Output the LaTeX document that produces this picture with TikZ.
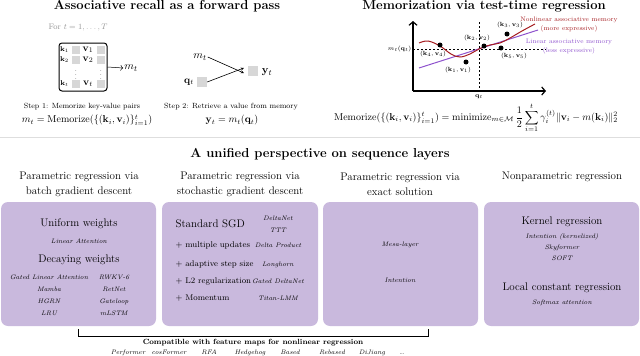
\documentclass[tikz,border=0pt]{standalone}
\usepackage{amsmath,amssymb}
\usetikzlibrary{arrows.meta}
\definecolor{boxpurple}{RGB}{201,185,221}
\definecolor{memred}{RGB}{165,28,32}
\definecolor{mempurple}{RGB}{142,82,205}
\definecolor{sepgray}{RGB}{222,222,222}
\definecolor{cellgray}{RGB}{215,215,215}
\definecolor{forgray}{RGB}{150,150,150}
\begin{document}
\begin{tikzpicture}[x=1pt,y=-1pt,
  bigtitle/.style={font=\fontsize{13}{15}\selectfont\bfseries},
  header/.style={font=\fontsize{11}{15.5}\selectfont, align=center},
  cat/.style={font=\fontsize{11}{13}\selectfont},
  model/.style={font=\fontsize{6.5}{8}\selectfont\itshape, inner sep=0.5pt, text height=1.7ex, text depth=0.45ex},
  sgd/.style={font=\fontsize{8.3}{10}\selectfont, anchor=west},
  panel/.style={fill=boxpurple, rounded corners=7pt, draw=none},
  cell/.style={fill=cellgray, minimum size=8pt, inner sep=0pt},
  steptext/.style={font=\fontsize{7.5}{9}\selectfont},
  formula/.style={font=\fontsize{10}{12}\selectfont},
  plotlbl/.style={font=\fontsize{6.5}{8}\selectfont, inner sep=0.5pt},
  klbl/.style={font=\fontsize{7.5}{9}\selectfont, inner sep=0pt},
  vlbl/.style={font=\fontsize{10}{12}\selectfont, inner sep=0pt},
  axisline/.style={line width=1.2pt, -{Straight Barb[length=3.5pt,width=8pt]}},
  cmarrow/.style={-{Computer Modern Rightarrow}, line width=0.5pt},
  dot/.style={circle, fill=black, minimum size=5pt, inner sep=0pt},
  memtext/.style={font=\fontsize{6.5}{8}\selectfont, inner sep=0.5pt},
]
\useasboundingbox (0,0) rectangle (640,356);

% ---------- Top left ----------
\node[bigtitle] (t1) at (167,6) {Associative recall as a forward pass};
\node[font=\fontsize{8}{10}\selectfont, text=forgray] (fort) at (78,28) {For $t=1,\ldots,T$};

\node[draw, line width=1pt, rounded corners=3pt, minimum width=48pt, minimum height=48pt] (membox) at (83,67) {};
\node[klbl] (k1) at (64.5,50) {$\mathbf{k}_1$};
\node[klbl] (k2) at (64.5,60) {$\mathbf{k}_2$};
\node[klbl] (kt) at (64.5,84) {$\mathbf{k}_t$};
\node[cell] (c11) at (76,50) {};
\node[cell] (c21) at (76,60) {};
\node[cell] (ct1) at (76,84) {};
\node[vlbl] (v1) at (88,50) {$\mathbf{v}_1$};
\node[vlbl] (v2) at (88,60) {$\mathbf{v}_2$};
\node[vlbl] (vt) at (88,84) {$\mathbf{v}_t$};
\node[cell] (c12) at (101,50) {};
\node[cell] (c22) at (101,60) {};
\node[cell] (ct2) at (101,84) {};
\node[font=\fontsize{6}{7}\selectfont, inner sep=0pt] (vd1) at (76,72) {$\vdots$};
\node[font=\fontsize{6}{7}\selectfont, inner sep=0pt] (vd2) at (101,72) {$\vdots$};
\node[font=\fontsize{11}{13}\selectfont, inner sep=1pt] (mt1) at (131,68) {$m_t$};
\draw[cmarrow] (membox.east) -- (mt1.west);

\node[font=\fontsize{11}{13}\selectfont, inner sep=1pt] (mt2) at (200,57) {$m_t$};
\node[font=\fontsize{10}{12}\selectfont, inner sep=1pt] (qt) at (189,82) {$\mathbf{q}_t$};
\node[cell, minimum size=10pt] (qcell) at (202,82) {};
\node[cell, minimum size=10pt] (ycell) at (253,71) {};
\node[font=\fontsize{11}{13}\selectfont, inner sep=1pt] (yt) at (267,72) {$\mathbf{y}_t$};
\draw[-{Stealth[length=3pt,width=3pt]}, line width=0.6pt] (mt2.east) -- ([xshift=-4pt,yshift=-2pt]ycell.west);
\draw[-{Stealth[length=3pt,width=3pt]}, line width=0.6pt] (qcell.east) -- ([xshift=-4pt,yshift=3pt]ycell.west);

\node[steptext] (s1) at (82,107) {Step 1: Memorize key-value pairs};
\node[formula] (f1) at (87,120) {$m_t = \mathrm{Memorize}(\{(\mathbf{k}_i,\mathbf{v}_i)\}_{i=1}^t)$};
\node[steptext] (s2) at (231,107) {Step 2: Retrieve a value from memory};
\node[formula] (f2) at (232,120) {$\mathbf{y}_t = m_t(\mathbf{q}_t)$};

% separator
\draw[sepgray, line width=0.8pt] (0,137) -- (640,137);

% ---------- Top right ----------
\node[bigtitle] (t2) at (484,6) {Memorization via test-time regression};
\coordinate (O) at (413,91);
\coordinate (ytop) at (413,21);
\coordinate (xend) at (546,91);
\draw[axisline] (O) -- (ytop);
\draw[axisline] (O) -- (xend);
\coordinate (dvtop) at (479,22);
\coordinate (dvbot) at (479,91);
\coordinate (dhl) at (413,49);
\coordinate (dhr) at (546,49);
\draw[line width=0.6pt, dash pattern=on 2pt off 2pt] (dvtop) -- (dvbot);
\draw[line width=0.6pt, dash pattern=on 2pt off 2pt] (dhl) -- (dhr);
\node[plotlbl, anchor=east] (mq) at (412,49) {$m_t(\mathbf{q}_t)$};
\node[plotlbl] (qlab) at (479,97) {$\mathbf{q}_t$};
\coordinate (pl1) at (419,68);
\coordinate (pl2) at (538,30);
\draw[mempurple, line width=1pt] (pl1) -- (pl2);
\draw[memred, line width=1pt] plot[smooth, tension=0.6] coordinates {(419,43) (428,41) (440,46) (451,54) (460,57) (470,54) (479,49) (490,45) (500,43) (510,38) (522,31) (535,24)};
\node[dot] (d4) at (440,45) {};
\node[dot] (d1) at (466,62) {};
\node[dot] (d2) at (484,46) {};
\node[dot] (d5) at (501,48) {};
\node[dot] (d3) at (507,34) {};
\node[plotlbl] (l4) at (433,54) {$(\mathbf{k}_4,\mathbf{v}_4)$};
\node[plotlbl] (l1) at (458,70) {$(\mathbf{k}_1,\mathbf{v}_1)$};
\node[plotlbl] (l2) at (477,38) {$(\mathbf{k}_2,\mathbf{v}_2)$};
\node[plotlbl] (l5) at (514,56) {$(\mathbf{k}_5,\mathbf{v}_5)$};
\node[plotlbl] (l3) at (510,25) {$(\mathbf{k}_3,\mathbf{v}_3)$};
\node[memtext, text=memred, align=center] (nl) at (569,25) {Nonlinear associative memory\\[1pt](more expressive)};
\node[memtext, text=mempurple, align=center] (ln) at (569,47) {Linear associative memory\\[1pt](less expressive)};
\node[formula, font=\fontsize{9.6}{12}\selectfont] (f3) at (476,118) {$\mathrm{Memorize}(\{(\mathbf{k}_i,\mathbf{v}_i)\}_{i=1}^t) = \mathrm{minimize}_{m\in\mathcal{M}}\, \dfrac{1}{2}\displaystyle\sum_{i=1}^{t} \gamma_i^{(t)} \|\mathbf{v}_i - m(\mathbf{k}_i)\|_2^2$};

% ---------- Bottom ----------
\node[bigtitle] (t3) at (320,154) {A unified perspective on sequence layers};
\node[header] (h1) at (79,184.5) {Parametric regression via\\batch gradient descent};
\node[header] (h2) at (240,184.5) {Parametric regression via\\stochastic gradient descent};
\node[header] (h3) at (400,184.5) {Parametric regression via\\exact solution};
\node[header] (h4) at (562,177) {Nonparametric regression};

\node[panel, minimum width=155pt, minimum height=124pt] (p1) at (78.5,264) {};
\node[panel, minimum width=156pt, minimum height=124pt] (p2) at (240,264) {};
\node[panel, minimum width=155pt, minimum height=124pt] (p3) at (400.5,264) {};
\node[panel, minimum width=155pt, minimum height=124pt] (p4) at (561.5,264) {};

% panel 1
\node[cat] (uw) at (79,224) {Uniform weights};
\node[model] (la) at (79,241) {Linear Attention};
\node[cat] (dw) at (79,260) {Decaying weights};
\node[model] (gla) at (49,276.5) {Gated Linear Attention};
\node[model] (mam) at (49,288.5) {Mamba};
\node[model] (hgrn) at (49,300.5) {HGRN};
\node[model] (lru) at (49,312.5) {LRU};
\node[model] (rwkv) at (114,276.5) {RWKV-6};
\node[model] (ret) at (114,288.5) {RetNet};
\node[model] (gate) at (114,300.5) {Gateloop};
\node[model] (mlstm) at (114,312.5) {mLSTM};

% panel 2
\node[cat, anchor=west] (ssgd) at (172,224) {Standard SGD};
\node[model] (dnet) at (278,218) {DeltaNet};
\node[model] (ttt) at (278,229.5) {TTT};
\node[sgd] (mu) at (172,245) {+ multiple updates};
\node[model] (dp) at (278,245) {Delta Product};
\node[sgd] (ass) at (172,264) {+ adaptive step size};
\node[model] (lh) at (278,264) {Longhorn};
\node[sgd] (l2) at (172,281) {+ L2 regularization};
\node[model] (gdn) at (278,281) {Gated DeltaNet};
\node[sgd] (mom) at (172,298) {+ Momentum};
\node[model] (tlmm) at (278,298) {Titan-LMM};

% panel 3
\node[model] (mesa) at (400,244) {Mesa-layer};
\node[model] (int) at (400,280) {Intention};

% panel 4
\node[cat] (kr) at (562,222) {Kernel regression};
\node[model] (ik) at (562,235.5) {Intention (kernelized)};
\node[model] (sky) at (562,246.5) {Skyformer};
\node[model] (soft) at (562,257.5) {SOFT};
\node[cat] (lcr) at (562,288) {Local constant regression};
\node[model] (sma) at (562,302) {Softmax attention};

% bracket
\coordinate (bl) at (78,329);
\coordinate (br) at (428,329);
\draw[line width=0.8pt] (bl) -- ++(0,7) -| (br);
\node[font=\fontsize{7.5}{9}\selectfont\bfseries] (comp) at (253,342.5) {Compatible with feature maps for nonlinear regression};
\node[model] (fm1) at (128,352) {Performer};
\node[model] (fm2) at (169,352) {cosFormer};
\node[model] (fm3) at (209,352) {RFA};
\node[model] (fm4) at (250,352) {Hedgehog};
\node[model] (fm5) at (290,352) {Based};
\node[model] (fm6) at (332,352) {Rebased};
\node[model] (fm7) at (372,352) {DiJiang};
\node[model] (fm8) at (402,352) {\dots};
\end{tikzpicture}
\end{document}
